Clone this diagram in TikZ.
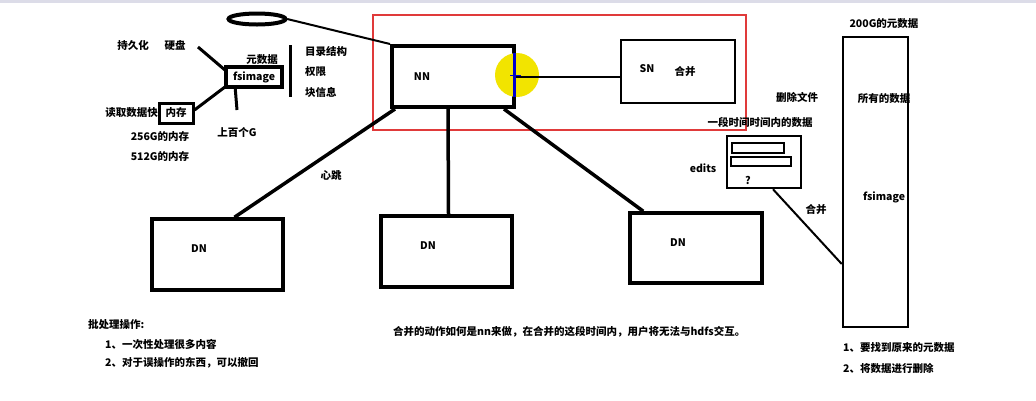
\documentclass[tikz,border=0pt]{standalone}
\usepackage{fontspec}
\setmainfont{Noto Sans CJK SC}
\usetikzlibrary{calc,shapes.geometric}
\definecolor{redbox}{HTML}{E03A3A}
\definecolor{hilite}{HTML}{F2E400}
\definecolor{topband}{HTML}{DCDCE8}
\tikzset{
  lbl/.style={inner sep=0pt, font=\fontsize{10.5}{12}\selectfont\bfseries},
  box/.style={draw=black, rectangle, inner sep=0pt, fill=white},
  link/.style={draw=black, line width=3.5pt},
  thin link/.style={draw=black, line width=2pt},
}
\begin{document}
\begin{tikzpicture}[x=1pt,y=-1pt]
\useasboundingbox (0,0) rectangle (1036,400);
\fill[white] (0,0) rectangle (1036,400);
\fill[topband] (0,0) rectangle (1036,3);

% red frame
\node[draw=redbox, line width=1.8pt, rectangle, minimum width=373pt, minimum height=115pt, inner sep=0pt] (red) at (559.5,72.5) {};

% boxes
\node[box, line width=4pt, minimum width=122pt, minimum height=61pt] (nn) at (453,76.5) {};
\node[box, line width=2.5pt, minimum width=114pt, minimum height=63pt] (sn) at (678,71.5) {};
\node[box, line width=3.5pt, minimum width=131pt, minimum height=71pt] (dn1) at (217.5,254.5) {};
\node[box, line width=3.5pt, minimum width=131pt, minimum height=71pt] (dn2) at (446.5,251.5) {};
\node[box, line width=3.5pt, minimum width=132pt, minimum height=70pt] (dn3) at (696,248) {};
\node[box, line width=2.5pt, minimum width=74pt, minimum height=52pt] (edits) at (764,162) {};
\node[box, line width=2pt, minimum width=52pt, minimum height=10pt] (bar1) at (758,148) {};
\node[box, line width=2pt, minimum width=60pt, minimum height=9pt] (bar2) at (761,161.5) {};
\node[box, line width=2.5pt, minimum width=65pt, minimum height=290pt] (tall) at (875.5,182) {};
\node[box, line width=3.5pt, minimum width=56pt, minimum height=20pt] (fsb) at (254,77) {};
\node[box, line width=3pt, minimum width=34pt, minimum height=20pt] (mem) at (176,113) {};
\node[ellipse, minimum width=60pt, minimum height=12pt, inner sep=0pt] (ell) at (257,19) {};
\draw[draw=black, line width=4pt] (ell.center) ellipse [x radius=28.5pt, y radius=5.5pt];

% highlight on NN
\fill[hilite] (517,75) circle (22pt);
\draw[blue!80!black, line width=3pt] (514,53) -- (514,97);

% connectors
\draw[thin link] (nn.east) -- (nn.east -| sn.west);
\draw[blue!80!black, line width=1pt] (510,75) -- (521,75);
\draw[thin link] (ell.east) -- (nn.north west);
\draw[link] ($(nn.south west)+(5,0)$) -- ($(dn1.north)+(17,0)$);
\draw[link] ($(nn.south)+(-5,0)$) -- ($(dn2.north)+(2,0)$);
\draw[link] ($(nn.south east)+(-12,0)$) -- ($(dn3.north west)+(15,0)$);
\draw[thin link] ($(edits.south)+(9,0)$) -- ($(tall.west)+(0,82)$);

\coordinate (diskend) at (198,47);
\coordinate (gend) at (237,110);
\coordinate (bartop) at (290,45);
\coordinate (barbot) at (290,97);
\draw[link, line width=3pt] (diskend) -- ($(fsb.north west)+(1,5)$);
\draw[link, line width=3pt] ($(fsb.south west)+(1,-2)$) -- ($(mem.east)+(0,-3)$);
\draw[link, line width=3pt] ($(fsb.south west)+(11,0)$) -- (gend);
\draw[link, line width=3pt] (bartop) -- (barbot);

% labels
\node[lbl] (l1) at (133,45) {持久化};
\node[lbl] (l2) at (175,45) {硬盘};
\node[lbl] (l3) at (262,60) {元数据};
\node[lbl] (l4) at (fsb) {fsimage};
\node[lbl, anchor=west] (l5) at (305,52) {目录结构};
\node[lbl, anchor=west] (l6) at (305,72) {权限};
\node[lbl, anchor=west] (l7) at (305,92) {块信息};
\node[lbl, anchor=east] (l8) at (158,113) {读取数据快};
\node[lbl] (l9) at (mem) {内存};
\node[lbl] (l10) at (237,132) {上百个G};
\node[lbl] (l11) at (160,137) {256G的内存};
\node[lbl] (l12) at (160,157) {512G的内存};
\node[lbl] (l13) at (422,77) {NN};
\node[lbl] (l14) at (647,69) {SN};
\node[lbl] (l15) at (685,72) {合并};
\node[lbl] (l16) at (797,97) {删除文件};
\node[lbl] (l17) at (760,122) {一段时间时间内的数据};
\node[lbl] (l18) at (703,168) {edits};
\node[lbl] (l19) at (748,180) {?};
\node[lbl] (l20) at (816,210) {合并};
\node[lbl] (l21) at (884,24) {200G的元数据};
\node[lbl] (l22) at (884,99) {所有的数据};
\node[lbl] (l23) at (884,197) {fsimage};
\node[lbl] (l24) at (331,175) {心跳};
\node[lbl] (l25) at (199,249) {DN};
\node[lbl] (l26) at (428,246) {DN};
\node[lbl] (l27) at (678,243) {DN};
\node[lbl, anchor=west] (l28) at (88,325) {批处理操作:};
\node[lbl, anchor=west] (l29) at (105,344) {1、一次性处理很多内容};
\node[lbl, anchor=west] (l30) at (105,363) {2、对于误操作的东西，可以撤回};
\node[lbl, anchor=west] (l31) at (393,332) {合并的动作如何是nn来做，在合并的这段时间内，用户将无法与hdfs交互。};
\node[lbl, anchor=west] (l32) at (843,348) {1、要找到原来的元数据};
\node[lbl, anchor=west] (l33) at (843,368) {2、将数据进行删除};
\end{tikzpicture}
\end{document}
